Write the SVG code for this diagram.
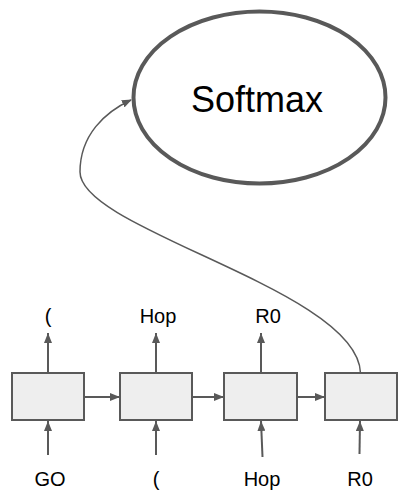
<svg xmlns="http://www.w3.org/2000/svg" width="399" height="491" viewBox="0 0 399 491">
<defs>
<marker id="ah" markerWidth="10" markerHeight="8" refX="10" refY="4" orient="auto" markerUnits="userSpaceOnUse">
<path d="M0,0 L10,4 L0,8 Z" fill="#595959"/>
</marker>
<marker id="ahs" markerWidth="10" markerHeight="8" refX="9" refY="4" orient="auto" markerUnits="userSpaceOnUse">
<path d="M0,0 L10,4 L0,8 Z" fill="#595959"/>
</marker>
<style>
.box{fill:#eeeeee;stroke:#595959;stroke-width:2}
.ar{stroke:#595959;stroke-width:2;fill:none;marker-end:url(#ah)}
.cv{stroke:#595959;stroke-width:1.5;fill:none;marker-end:url(#ahs)}
.lbl{font-family:"Liberation Sans",Arial,sans-serif;font-size:20px;fill:#000;text-anchor:middle}
</style>
</defs>
<g id="softmax">
<ellipse cx="259.5" cy="97.5" rx="126" ry="86" fill="#fff" stroke="#595959" stroke-width="4"/>
<text class="lbl" x="257" y="112" style="font-size:36px">Softmax</text>
</g>
<g id="cell1"><rect class="box" x="12" y="373" width="72" height="47"/></g>
<g id="cell2"><rect class="box" x="120" y="373" width="72" height="47"/></g>
<g id="cell3"><rect class="box" x="224" y="373" width="73" height="47"/></g>
<g id="cell4"><rect class="box" x="325" y="373" width="72" height="47"/></g>
<g id="labels">
<text class="lbl" x="48" y="323">(</text>
<text class="lbl" x="158" y="323">Hop</text>
<text class="lbl" x="268" y="323">R0</text>
<text class="lbl" x="50" y="486">GO</text>
<text class="lbl" x="156" y="486">(</text>
<text class="lbl" x="262" y="486">Hop</text>
<text class="lbl" x="360" y="486">R0</text>
</g>
<g id="connectors">
<line class="ar" x1="48" y1="373" x2="48" y2="333"/>
<line class="ar" x1="156" y1="373" x2="156" y2="333"/>
<line class="ar" x1="261" y1="373" x2="261" y2="333"/>
<line class="ar" x1="48" y1="455" x2="48" y2="421"/>
<line class="ar" x1="156" y1="455" x2="156" y2="421"/>
<line class="ar" x1="262.5" y1="457" x2="261" y2="421"/>
<line class="ar" x1="359.5" y1="454" x2="360" y2="421"/>
<line class="ar" x1="84" y1="397" x2="120" y2="397"/>
<line class="ar" x1="192" y1="397" x2="224" y2="397"/>
<line class="ar" x1="297" y1="397" x2="325" y2="397"/>
<path class="cv" d="M360.5,373 C358,290 80,230 80,172 C80,135 105,112 131,100"/>
</g>
</svg>
